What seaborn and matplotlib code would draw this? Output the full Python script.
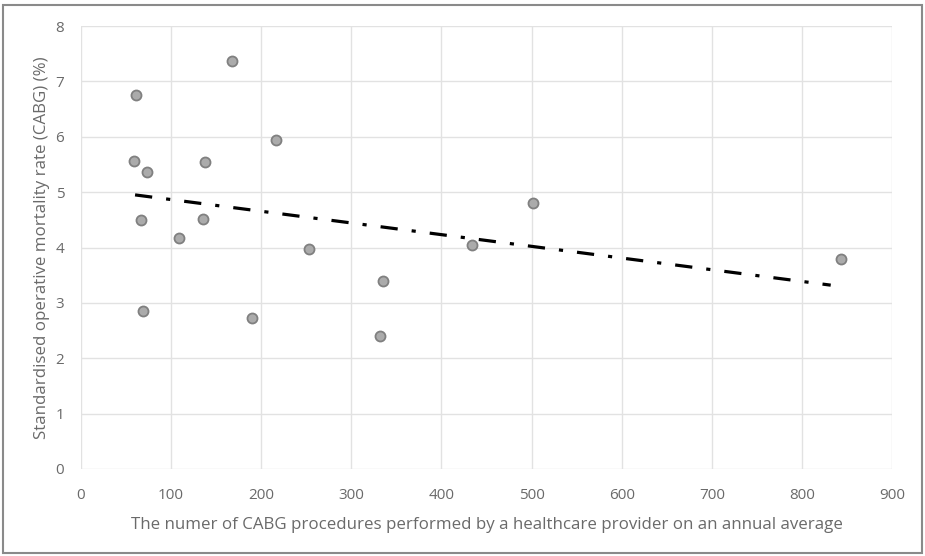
import matplotlib
matplotlib.use("Agg")
import matplotlib.pyplot as plt
import seaborn as sns
import pandas as pd
from matplotlib.patches import Rectangle

# Data
procedures = [61, 59, 73, 67, 69, 109, 138, 135, 168, 216, 190, 253, 335, 332, 434, 502, 843]
mortality = [6.75, 5.57, 5.36, 4.49, 2.85, 4.17, 5.54, 4.51, 7.36, 5.94, 2.73, 3.97, 3.39, 2.40, 4.04, 4.80, 3.79]
trend_x = [60, 832]
trend_y = [4.95, 3.32]
x_ticks = [0, 100, 200, 300, 400, 500, 600, 700, 800, 900]
y_ticks = [0, 1, 2, 3, 4, 5, 6, 7, 8]
x_label = "The numer of CABG procedures performed by a healthcare provider on an annual average"
y_label = "Standardised operative mortality rate (CABG) (%)"

df = pd.DataFrame({"procedures": procedures, "mortality": mortality})
trend = pd.DataFrame({"x": trend_x, "y": trend_y})

sns.set_theme(style="whitegrid")
plt.rcParams['font.family'] = ['Open Sans', 'DejaVu Sans']

fig = plt.figure(figsize=(9.25, 5.56), dpi=100)
ax = fig.add_axes([81/925, 1 - 469/556, (892-81)/925, (469-26)/556])

sns.scatterplot(data=df, x="procedures", y="mortality", ax=ax, s=52,
                color="#ababab", edgecolor="#808080", linewidth=1.3, zorder=3)
sns.lineplot(data=trend, x="x", y="y", ax=ax, color="black", linewidth=2.3,
             zorder=2, estimator=None, sort=False)
ax.lines[-1].set_linestyle((0, (5.4, 4.4, 1.3, 4.4)))
ax.lines[-1].set_dash_capstyle("butt")

ax.set_xlim(0, 900)
ax.set_ylim(0, 8)
ax.set_xticks(x_ticks)
ax.set_yticks(y_ticks)
ax.grid(True, color="#e2e2e2", linewidth=1.0)
for s in ax.spines.values():
    s.set_visible(False)
ax.tick_params(axis="both", colors="#6a6a6a", labelsize=11, length=0)
ax.tick_params(axis="x", pad=14)
ax.tick_params(axis="y", pad=12)
ax.set_xlabel(x_label, color="#6a6a6a", fontsize=12.2, labelpad=10)
ax.set_ylabel(y_label, color="#6a6a6a", fontsize=12.2, labelpad=4)

fig.patches.append(Rectangle((3/925, 3/556), 919/925, 548/556, transform=fig.transFigure,
                             fill=False, edgecolor="#8a8a8a", linewidth=1.5))

fig.savefig("out.png", dpi=100)
